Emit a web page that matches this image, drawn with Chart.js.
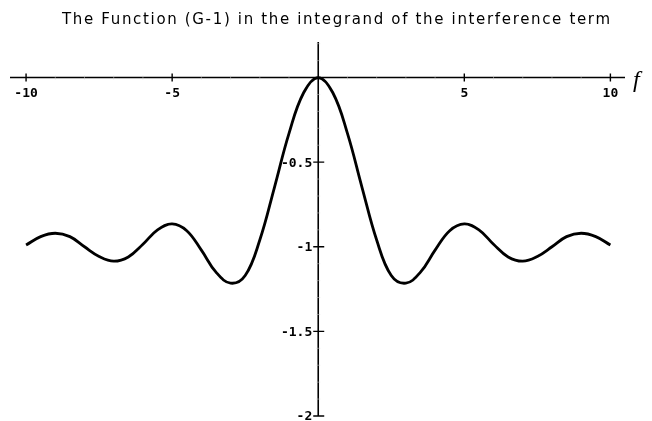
<!DOCTYPE html>
<html>
<head>
<meta charset="utf-8">
<script src="https://cdn.jsdelivr.net/npm/chart.js@4.4.1/dist/chart.umd.min.js"></script>
<style>
  html, body { margin: 0; padding: 0; background: #fff; }
  #wrap { width: 652px; height: 421px; position: relative; }
</style>
</head>
<body>
<div id="wrap"><canvas id="plot"></canvas></div>
<script>
// Sampled curve (G-1) against f
const fValues = [-10, -9.5, -9, -8.5, -8, -7.5, -7, -6.5, -6, -5.5, -5, -4.5, -4, -3.5, -3, -2.5, -2, -1.5, -1, -0.5,
                 0, 0.5, 1, 1.5, 2, 2.5, 3, 3.5, 4, 4.5, 5, 5.5, 6, 6.5, 7, 7.5, 8, 8.5, 9, 9.5, 10];
const gValues = [-0.99, -0.94, -0.92, -0.94, -1.0, -1.057, -1.085, -1.06, -0.985, -0.90, -0.865, -0.905, -1.02, -1.15, -1.215, -1.17, -0.96, -0.65, -0.33, -0.09,
                 0, -0.09, -0.33, -0.65, -0.96, -1.17, -1.215, -1.15, -1.02, -0.905, -0.865, -0.90, -0.985, -1.06, -1.085, -1.057, -1.0, -0.94, -0.92, -0.94, -0.99];

// Axis ticks
const xTicks = [-10, -5, 5, 10];
const xTickLabels = ['-10', '-5', '5', '10'];
const yTicks = [-0.5, -1, -1.5, -2];
const yTickLabels = ['-0.5', '-1', '-1.5', '-2'];
const xMinorTicks = [-9, -8, -7, -6, -4, -3, -2, -1, 1, 2, 3, 4, 6, 7, 8, 9];
const yMinorTicks = [-0.1, -0.2, -0.3, -0.4, -0.6, -0.7, -0.8, -0.9, -1.1, -1.2, -1.3, -1.4, -1.6, -1.7, -1.8, -1.9, 0.1, 0.2];

const titleText = 'The Function (G-1) in the integrand of the interference term';
const xAxisName = 'f';

// axes through the origin, drawn with cross ticks
const originAxes = {
    id: 'originAxes',
    afterDatasetsDraw(chart) {
        const { ctx, chartArea, scales: { x, y } } = chart;
        const x0 = x.getPixelForValue(0);
        const y0 = y.getPixelForValue(0);
        ctx.save();
        ctx.strokeStyle = '#000';
        ctx.fillStyle = '#000';

        ctx.lineWidth = 1.6;
        ctx.beginPath();
        ctx.moveTo(chartArea.left, y0);
        ctx.lineTo(chartArea.right, y0);
        ctx.moveTo(x0, chartArea.top);
        ctx.lineTo(x0, chartArea.bottom);
        ctx.stroke();

        // minor ticks, barely there
        ctx.lineWidth = 0.5;
        ctx.strokeStyle = '#ccc';
        ctx.beginPath();
        xMinorTicks.forEach(v => {
            const px = x.getPixelForValue(v);
            ctx.moveTo(px, y0 - 2);
            ctx.lineTo(px, y0 + 2);
        });
        yMinorTicks.forEach(v => {
            const py = y.getPixelForValue(v);
            ctx.moveTo(x0 - 2, py);
            ctx.lineTo(x0 + 2, py);
        });
        ctx.stroke();

        // major ticks
        ctx.strokeStyle = '#000';
        ctx.lineWidth = 1.4;
        ctx.beginPath();
        xTicks.forEach(v => {
            const px = x.getPixelForValue(v);
            ctx.moveTo(px, y0 - 4);
            ctx.lineTo(px, y0 + 4);
        });
        yTicks.forEach(v => {
            const py = y.getPixelForValue(v);
            ctx.moveTo(x0 - 5, py);
            ctx.lineTo(x0 + 6, py);
        });
        ctx.stroke();

        ctx.font = 'bold 13px "DejaVu Sans Mono"';
        ctx.textAlign = 'center';
        ctx.textBaseline = 'top';
        xTicks.forEach((v, i) => {
            ctx.fillText(xTickLabels[i], x.getPixelForValue(v), y0 + 10);
        });
        ctx.textAlign = 'right';
        ctx.textBaseline = 'middle';
        yTicks.forEach((v, i) => {
            ctx.fillText(yTickLabels[i], x0 - 6, y.getPixelForValue(v) + 1);
        });

        ctx.font = 'italic 24px "Liberation Serif"';
        ctx.textAlign = 'left';
        ctx.textBaseline = 'alphabetic';
        ctx.fillText(xAxisName, chartArea.right + 8, y0 + 9);

        // title, spread to its full width
        ctx.font = '15px "DejaVu Sans"';
        const w = ctx.measureText(titleText).width;
        ctx.letterSpacing = ((548 - w) / (titleText.length - 1)).toFixed(2) + 'px';
        ctx.textAlign = 'left';
        ctx.fillText(titleText, 62, 24);
        ctx.restore();
    }
};

new Chart(document.getElementById('plot'), {
    type: 'line',
    data: {
        datasets: [{
            data: fValues.map((f, i) => ({ x: f, y: gValues[i] })),
            borderColor: '#000',
            borderWidth: 2.8,
            pointRadius: 0,
            tension: 0.4,
            fill: false
        }]
    },
    options: {
        responsive: true,
        maintainAspectRatio: false,
        animation: false,
        layout: { padding: { left: 10, right: 27, top: 42, bottom: 5 } },
        plugins: {
            legend: { display: false },
            title: { display: false },
            tooltip: { enabled: false }
        },
        scales: {
            x: { type: 'linear', min: -10.55, max: 10.5, display: false },
            y: { type: 'linear', min: -2.0, max: 0.21, display: false }
        }
    },
    plugins: [originAxes]
});
</script>
</body>
</html>
